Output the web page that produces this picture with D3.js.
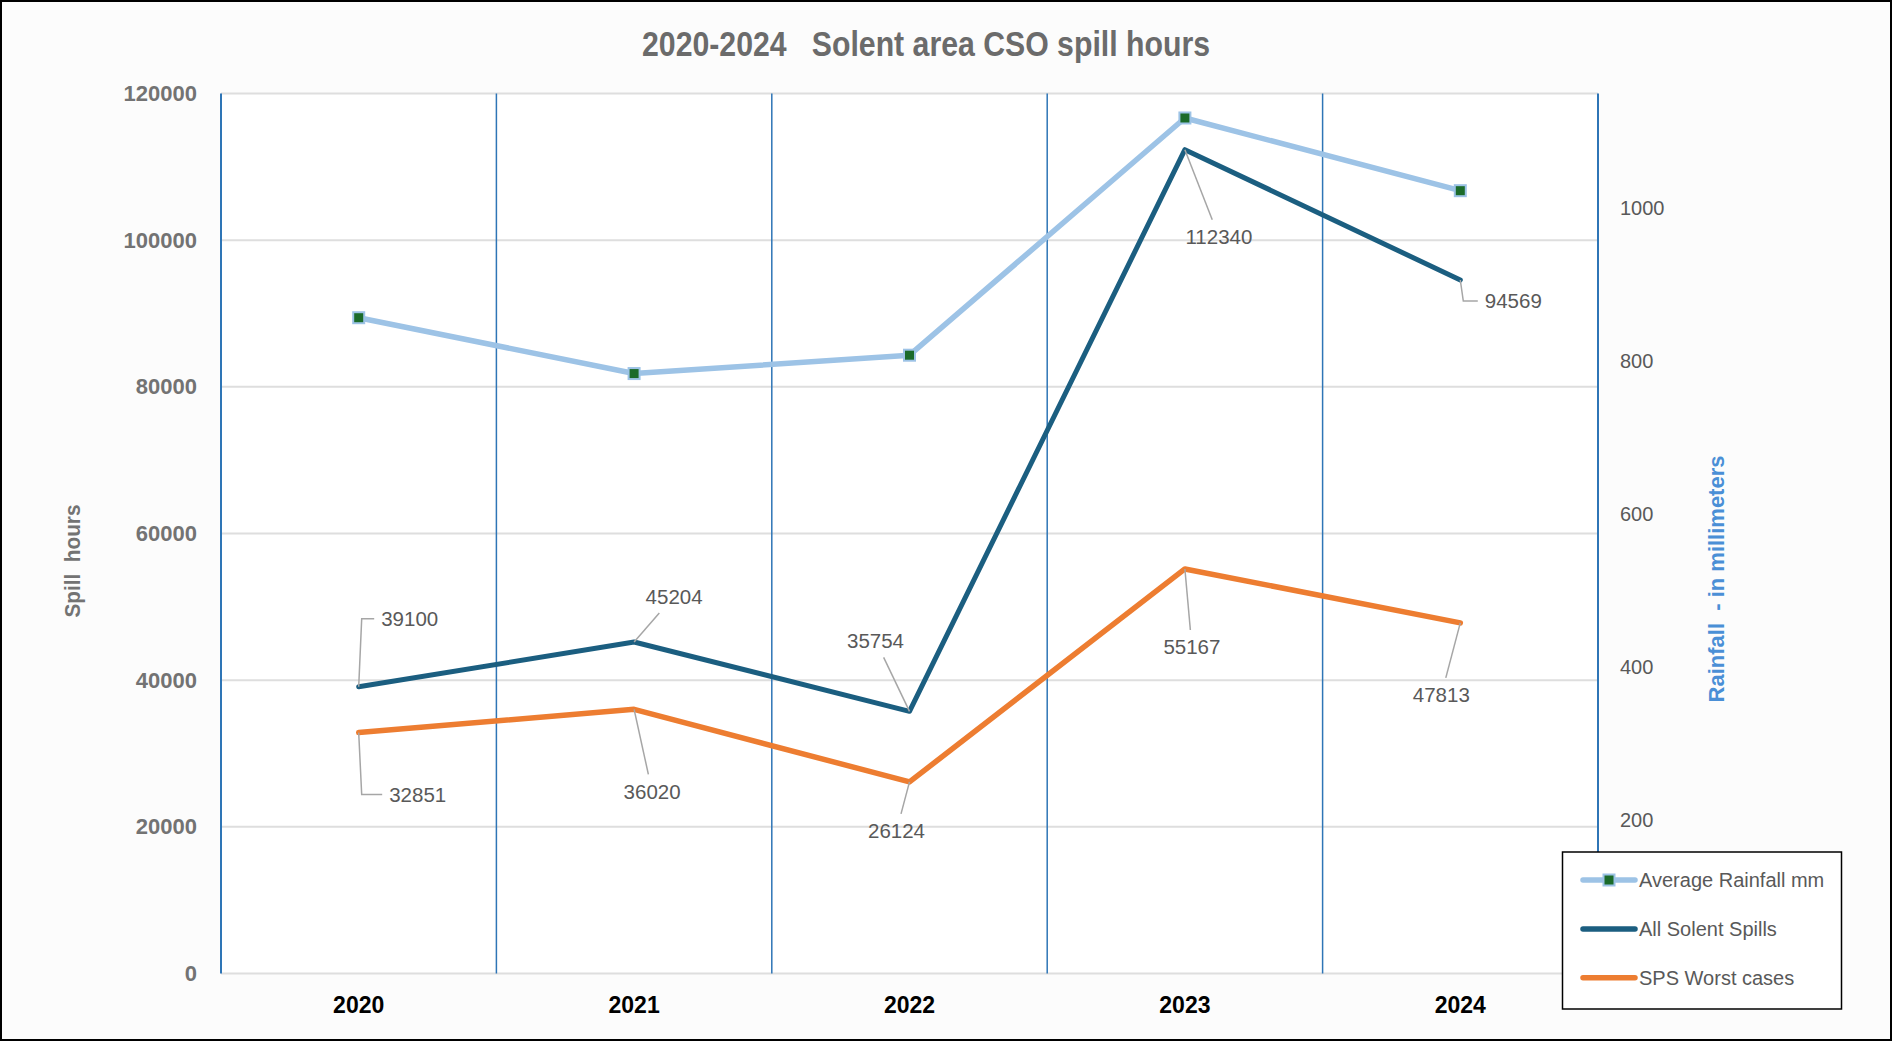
<!DOCTYPE html>
<html>
<head>
<meta charset="utf-8">
<script src="https://cdn.jsdelivr.net/npm/d3@7"></script>
<style>
  html, body { margin: 0; padding: 0; background: #fff; }
  svg { display: block; }
  .sans { font-family: "Liberation Sans", Arial, sans-serif; }
</style>
</head>
<body>
<div id="app"></div>
<script>
// chart data
const years = ['2020', '2021', '2022', '2023', '2024']
const rainfall = [857, 784, 808, 1118, 1023]
const solentSpills = [39100, 45204, 35754, 112340, 94569]
const spsWorst = [32851, 36020, 26124, 55167, 47813]
const leftTicks = [0, 20000, 40000, 60000, 80000, 100000, 120000]
const rightTicks = [0, 200, 400, 600, 800, 1000]

// label placement (dragged labels in the original), px from the point
const solentLabelPos = [[51, -68, true], [40, -46, false], [-34, -71, false], [34, 87, false], [53, 21, true]]
const spsLabelPos = [[59, 62, true], [18, 82, false], [-13, 49, false], [7, 78, false], [-19, 72, false]]

const size = { width: 1892, height: 1041 }
const plot = { left: 221, right: 1598, top: 93.5, bottom: 973.5 }

const colors = {
  rain: '#9dc3e6',
  rainMarker: '#1b6b2a',
  solent: '#1b5e80',
  sps: '#ed7d31',
  vgrid: '#2e75b6',
  hgrid: '#dedede',
  tick: '#595959',
  leftTick: '#737373'
}

const svg = d3.select('#app').append('svg')
  .attr('width', size.width)
  .attr('height', size.height)

svg.append('rect').attr('width', size.width).attr('height', size.height).attr('fill', '#fcfcfc')
svg.append('rect')
  .attr('x', plot.left).attr('y', plot.top)
  .attr('width', plot.right - plot.left).attr('height', plot.bottom - plot.top)
  .attr('fill', '#ffffff')

const x = d3.scaleBand().domain(years).range([plot.left, plot.right]).padding(0)
const yLeft = d3.scaleLinear().domain([0, 120000]).range([plot.bottom, plot.top])
const yRight = d3.scaleLinear().domain([0, 1150]).range([plot.bottom, plot.top])
const cx = d => x(d) + x.bandwidth() / 2

// horizontal gridlines
svg.append('g')
  .selectAll('line')
  .data(leftTicks)
  .enter()
  .append('line')
  .attr('x1', plot.left).attr('x2', plot.right)
  .attr('y1', d => yLeft(d)).attr('y2', d => yLeft(d))
  .attr('stroke', colors.hgrid)
  .attr('stroke-width', 2)

// vertical gridlines between categories
svg.append('g')
  .selectAll('line')
  .data(years.slice(1))
  .enter()
  .append('line')
  .attr('x1', d => x(d)).attr('x2', d => x(d))
  .attr('y1', plot.top).attr('y2', plot.bottom)
  .attr('stroke', colors.vgrid)
  .attr('stroke-width', 1.5)

// axis lines
svg.append('line')
  .attr('x1', plot.left).attr('x2', plot.left)
  .attr('y1', plot.top).attr('y2', plot.bottom)
  .attr('stroke', colors.vgrid).attr('stroke-width', 2)
svg.append('line')
  .attr('x1', plot.right).attr('x2', plot.right)
  .attr('y1', plot.top).attr('y2', plot.bottom)
  .attr('stroke', colors.vgrid).attr('stroke-width', 2)

// left axis
const leftAxis = svg.append('g')
  .attr('transform', `translate(${plot.left},0)`)
  .call(d3.axisLeft(yLeft).tickValues(leftTicks).tickSize(0).tickPadding(24).tickFormat(d3.format('d')))
leftAxis.select('.domain').remove()
leftAxis.selectAll('text')
  .attr('class', 'sans')
  .attr('font-size', 22)
  .attr('font-weight', 'bold')
  .attr('fill', colors.leftTick)

// right axis
const rightAxis = svg.append('g')
  .attr('transform', `translate(${plot.right},0)`)
  .call(d3.axisRight(yRight).tickValues(rightTicks).tickSize(0).tickPadding(22).tickFormat(d3.format('d')))
rightAxis.select('.domain').remove()
rightAxis.selectAll('text')
  .attr('class', 'sans')
  .attr('font-size', 20)
  .attr('fill', colors.tick)

// x axis
const xAxis = svg.append('g')
  .attr('transform', `translate(0,${plot.bottom})`)
  .call(d3.axisBottom(x).tickSize(0).tickPadding(23))
xAxis.select('.domain').remove()
xAxis.selectAll('text')
  .attr('class', 'sans')
  .attr('font-size', 23)
  .attr('font-weight', 'bold')
  .attr('fill', '#000')

// lines
const rainLine = d3.line().x((d, i) => cx(years[i])).y(d => yRight(d))
const leftLine = d3.line().x((d, i) => cx(years[i])).y(d => yLeft(d))

svg.append('path').datum(rainfall)
  .attr('d', rainLine)
  .attr('fill', 'none')
  .attr('stroke', colors.rain)
  .attr('stroke-width', 5.5)
  .attr('stroke-linejoin', 'round')

svg.append('g')
  .selectAll('rect')
  .data(rainfall)
  .enter()
  .append('rect')
  .attr('x', (d, i) => cx(years[i]) - 5.5)
  .attr('y', d => yRight(d) - 5.5)
  .attr('width', 11).attr('height', 11)
  .attr('fill', colors.rainMarker)
  .attr('stroke', colors.rain)
  .attr('stroke-width', 2)

svg.append('path').datum(solentSpills)
  .attr('d', leftLine)
  .attr('fill', 'none')
  .attr('stroke', colors.solent)
  .attr('stroke-width', 5)
  .attr('stroke-linejoin', 'round')
  .attr('stroke-linecap', 'round')

svg.append('path').datum(spsWorst)
  .attr('d', leftLine)
  .attr('fill', 'none')
  .attr('stroke', colors.sps)
  .attr('stroke-width', 5.5)
  .attr('stroke-linejoin', 'round')
  .attr('stroke-linecap', 'round')

// data labels with leader lines
function drawLabels(values, positions) {
  const g = svg.append('g')
  values.forEach((v, i) => {
    const px = cx(years[i])
    const py = yLeft(v)
    const [dx, dy, elbow] = positions[i]
    const lx = px + dx
    const ly = py + dy
    const t = g.append('text')
      .attr('class', 'sans')
      .attr('x', lx).attr('y', ly)
      .attr('text-anchor', 'middle')
      .attr('dominant-baseline', 'central')
      .attr('font-size', 20.5)
      .attr('fill', colors.tick)
      .text(v)
    const w = t.node().getComputedTextLength()
    let pts
    if (elbow) {
      const left = lx - w / 2
      pts = [[px, py], [px + 3, ly], [left - 7, ly]]
    } else {
      const hw = w / 2 + 5
      const hh = 11 + 6
      const s = Math.min(Math.abs(dx) > 0 ? hw / Math.abs(dx) : Infinity, hh / Math.abs(dy))
      const k = Math.max(0, 1 - s)
      pts = [[px, py], [px + dx * k, py + dy * k]]
    }
    g.insert('path', 'text')
      .attr('d', d3.line()(pts))
      .attr('fill', 'none')
      .attr('stroke', '#a6a6a6')
      .attr('stroke-width', 1.5)
  })
}
drawLabels(solentSpills, solentLabelPos)
drawLabels(spsWorst, spsLabelPos)

// titles (the original uses a condensed bold face, so squeeze the glyphs)
svg.append('text')
  .attr('class', 'sans')
  .attr('x', 926).attr('y', 43)
  .attr('text-anchor', 'middle')
  .attr('dominant-baseline', 'central')
  .attr('font-size', 35)
  .attr('font-weight', 'bold')
  .attr('fill', '#6b6b6b')
  .attr('xml:space', 'preserve')
  .attr('textLength', 568)
  .attr('lengthAdjust', 'spacingAndGlyphs')
  .text('2020-2024   Solent area CSO spill hours')

svg.append('text')
  .attr('class', 'sans')
  .attr('transform', 'translate(72,561) rotate(-90)')
  .attr('text-anchor', 'middle')
  .attr('dominant-baseline', 'central')
  .attr('font-size', 22)
  .attr('font-weight', 'bold')
  .attr('fill', '#737373')
  .attr('xml:space', 'preserve')
  .attr('textLength', 113)
  .attr('lengthAdjust', 'spacingAndGlyphs')
  .text('Spill  hours')

svg.append('text')
  .attr('class', 'sans')
  .attr('transform', 'translate(1716,579) rotate(-90)')
  .attr('text-anchor', 'middle')
  .attr('dominant-baseline', 'central')
  .attr('font-size', 22)
  .attr('font-weight', 'bold')
  .attr('fill', '#4a8fd6')
  .attr('xml:space', 'preserve')
  .text('Rainfall  - in millimeters')

// legend
const legendItems = [
  { name: 'Average Rainfall mm', color: colors.rain, marker: true },
  { name: 'All Solent Spills', color: colors.solent, marker: false },
  { name: 'SPS Worst cases', color: colors.sps, marker: false }
]
const legend = svg.append('g')
legend.append('rect')
  .attr('x', 1562.5).attr('y', 852)
  .attr('width', 279).attr('height', 157)
  .attr('fill', '#fff')
  .attr('stroke', '#000')
  .attr('stroke-width', 1.5)

const rows = legend.selectAll('g.item')
  .data(legendItems)
  .enter()
  .append('g')
  .attr('class', 'item')
  .attr('transform', (d, i) => `translate(1583,${880 + i * 48.9})`)
rows.append('line')
  .attr('x1', 0).attr('x2', 52)
  .attr('stroke', d => d.color)
  .attr('stroke-width', 5.5)
  .attr('stroke-linecap', 'round')
rows.filter(d => d.marker)
  .append('rect')
  .attr('x', 20.5).attr('y', -5.5)
  .attr('width', 11).attr('height', 11)
  .attr('fill', colors.rainMarker)
  .attr('stroke', colors.rain)
  .attr('stroke-width', 2)
rows.append('text')
  .attr('class', 'sans')
  .attr('x', 56)
  .attr('dominant-baseline', 'central')
  .attr('font-size', 20)
  .attr('fill', colors.tick)
  .text(d => d.name)

// outer frame
svg.append('rect')
  .attr('x', 1).attr('y', 1)
  .attr('width', size.width - 2).attr('height', size.height - 2)
  .attr('fill', 'none')
  .attr('stroke', '#000')
  .attr('stroke-width', 2)
</script>
</body>
</html>
